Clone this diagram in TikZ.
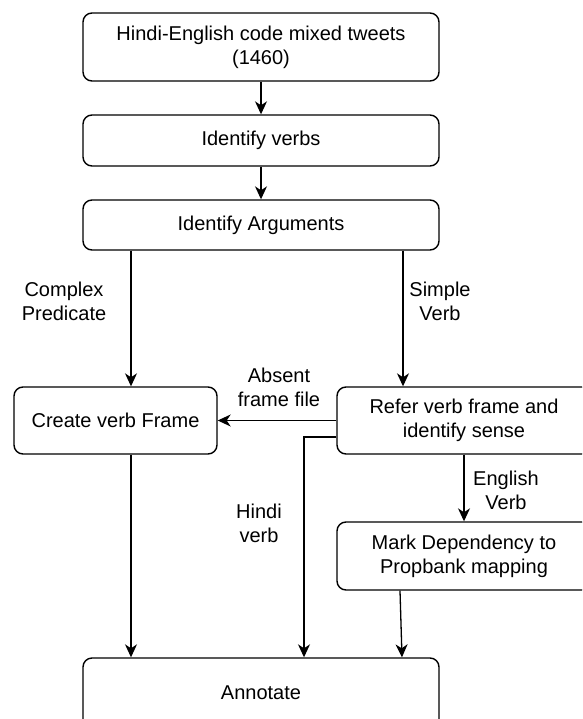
\documentclass[tikz,border=0pt]{standalone}
\usepackage{fontspec}
\setmainfont{Liberation Sans}
\usetikzlibrary{positioning,arrows.meta}
\tikzset{
>={Stealth[length=13pt,width=12pt,inset=4pt]}, % filled heads like the drawing tool
every node/.style={font=\fontsize{20}{24}\selectfont, align=center},
stage/.style={draw, line width=1.4pt, rounded corners=9pt, inner sep=0pt}, % sets the look of each box
wide/.style={stage, minimum width=356pt},
side/.style={stage, minimum width=254pt, minimum height=67pt},
flow/.style={draw, ->, line width=1.3pt}, % the connectors
}

\begin{document}
\begin{tikzpicture}[x=1pt, y=-1pt]
\useasboundingbox (0,0) rectangle (582,719);
\clip (0,0) rectangle (582,719);
\node[wide, minimum height=68pt] (tweets) at (261,47) {Hindi-English code mixed tweets\\(1460)};
\node[wide, minimum height=51pt] (verbs) at (261,140.5) {Identify verbs};
\node[wide, minimum height=50pt] (args) at (261,225) {Identify Arguments};
\node[stage, minimum width=203pt, minimum height=67pt] (create) at (115.5,420.5) {Create verb Frame};
\node[side] (refer) at (464,420.5) {Refer verb frame and\\identify sense};
\node[side, minimum height=68pt] (mark) at (464,556) {Mark Dependency to\\Propbank mapping};
\node[wide, minimum height=70pt] (annot) at (261,693) {Annotate};
\coordinate (cx) at (131,0);
\coordinate (sx) at (403,0);
\coordinate (hx) at (304,0);
\coordinate (mx) at (400,0);
\coordinate (ax) at (402,0);
\node (complex) at (64,301) {Complex\\Predicate};
\node (simple) at (440,301) {Simple\\Verb};
\node (absent) at (279,387) {Absent\\frame file};
\node (hindi) at (259,523) {Hindi\\verb};
\node (english) at (506,490) {English\\Verb};
\path
(tweets) edge[flow] (verbs)
(verbs) edge[flow] (args)
(args.south -| cx) edge[flow] (create.north -| cx)
(args.south -| sx) edge[flow] (refer.north -| sx)
(refer.west) edge[flow] (create.east)
(refer) edge[flow] (mark)
(create.south -| cx) edge[flow] (annot.north -| cx)
(mark.south -| mx) edge[flow] (annot.north -| ax)
;
\draw[flow] ([yshift=-16.5pt]refer.west) -| (annot.north -| hx);
\end{tikzpicture}
\end{document}
